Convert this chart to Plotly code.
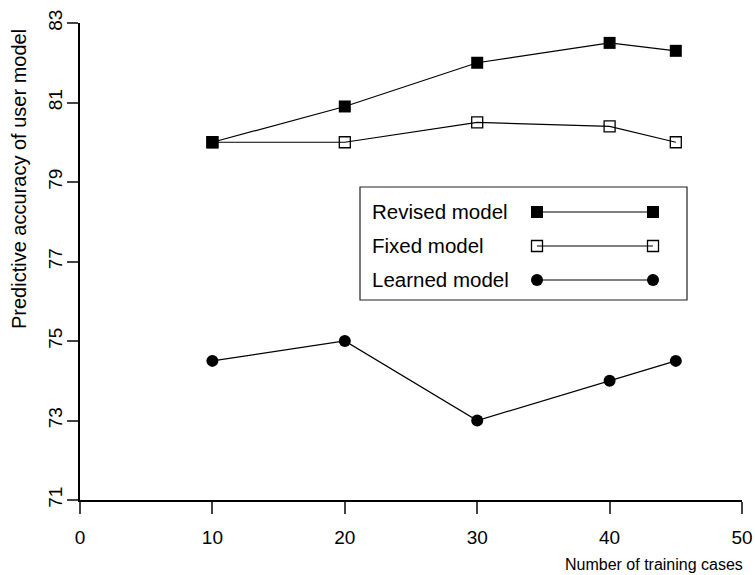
import plotly.graph_objects as go

# Training set sizes and predictive accuracy (%) for each user-model variant
training_cases = [10, 20, 30, 40, 45]
revised_model = [80.0, 80.9, 82.0, 82.5, 82.3]
fixed_model = [80.0, 80.0, 80.5, 80.4, 80.0]
learned_model = [74.5, 75.0, 73.0, 74.0, 74.5]

series_names = ["Revised model", "Fixed model", "Learned model"]
x_ticks = [0, 10, 20, 30, 40, 50]
y_ticks = [71, 73, 75, 77, 79, 81, 83]

FONT = "Liberation Sans, Arial, Helvetica, sans-serif"
W, H = 755, 575
L, R, T, B = 80, 13, 23, 75
PW, PH = W - L - R, H - T - B


def px(x):
    return (x - L) / PW


def py(y):
    return (H - B - y) / PH


fig = go.Figure()

styles = [
    dict(symbol="square", size=12, color="black"),
    dict(symbol="square-open", size=11, color="black", line=dict(width=1.3, color="black")),
    dict(symbol="circle", size=12, color="black"),
]

for name, vals, st in zip(series_names, [revised_model, fixed_model, learned_model], styles):
    fig.add_trace(go.Scatter(
        x=training_cases, y=vals, name=name, mode="lines+markers",
        line=dict(color="black", width=1.2), marker=st, showlegend=False,
        cliponaxis=False,
    ))

shapes = []
annotations = []

# Legend frame
shapes.append(dict(type="rect", xref="paper", yref="paper",
                   x0=px(360), x1=px(687), y0=py(187), y1=py(300),
                   line=dict(color="#222", width=1.2), fillcolor="white", layer="above"))

row_y = [212, 246, 280]
lx0, lx1 = 537, 653
for i, (name, yy) in enumerate(zip(series_names, row_y)):
    annotations.append(dict(text=name, xref="paper", yref="paper", x=px(370), y=py(yy - 1),
                            xanchor="left", yanchor="middle", showarrow=False,
                            font=dict(family=FONT, size=20.5, color="black")))
    shapes.append(dict(type="line", xref="paper", yref="paper",
                       x0=px(lx0), x1=px(lx1), y0=py(yy), y1=py(yy),
                       line=dict(color="black", width=1.2), layer="above"))
    for cx in (lx0, lx1):
        if i == 2:
            r = 6
            shapes.append(dict(type="circle", xref="paper", yref="paper",
                               x0=px(cx - r), x1=px(cx + r), y0=py(yy - r), y1=py(yy + r),
                               fillcolor="black", line=dict(color="black", width=0), layer="above"))
        elif i == 0:
            r = 6
            shapes.append(dict(type="rect", xref="paper", yref="paper",
                               x0=px(cx - r), x1=px(cx + r), y0=py(yy - r), y1=py(yy + r),
                               fillcolor="black", line=dict(color="black", width=0), layer="above"))
        else:
            r = 5.5
            shapes.append(dict(type="rect", xref="paper", yref="paper",
                               x0=px(cx - r), x1=px(cx + r), y0=py(yy - r), y1=py(yy + r),
                               fillcolor="rgba(0,0,0,0)", line=dict(color="black", width=1.3),
                               layer="above"))

# Axis titles
annotations.append(dict(text="Predictive accuracy of user model", xref="paper", yref="paper",
                        x=px(19), y=py(179), textangle=-90, showarrow=False,
                        xanchor="center", yanchor="middle",
                        font=dict(family=FONT, size=20, color="black")))
annotations.append(dict(text="Number of training cases", xref="paper", yref="paper",
                        x=px(745), y=py(564), showarrow=False,
                        xanchor="right", yanchor="middle",
                        font=dict(family=FONT, size=16, color="black")))

fig.update_layout(
    width=W, height=H,
    margin=dict(l=L, r=R, t=T, b=B, pad=0, autoexpand=False),
    paper_bgcolor="white", plot_bgcolor="white",
    font=dict(family=FONT, color="black"),
    shapes=shapes, annotations=annotations,
    xaxis=dict(range=[0, 50], tickvals=x_ticks, ticks="outside", ticklen=12, tickwidth=2,
               showline=True, linewidth=2, linecolor="black", showgrid=False, zeroline=False,
               tickfont=dict(family=FONT, size=19), ticklabelstandoff=7, automargin=False),
    yaxis=dict(range=[71, 83], tickvals=y_ticks, ticks="outside", ticklen=11, tickwidth=2,
               showline=True, linewidth=2, linecolor="black", showgrid=False, zeroline=False,
               tickangle=-90, tickfont=dict(family=FONT, size=19), ticklabelstandoff=-3,
               automargin=False),
)

fig.write_html("out.html")
